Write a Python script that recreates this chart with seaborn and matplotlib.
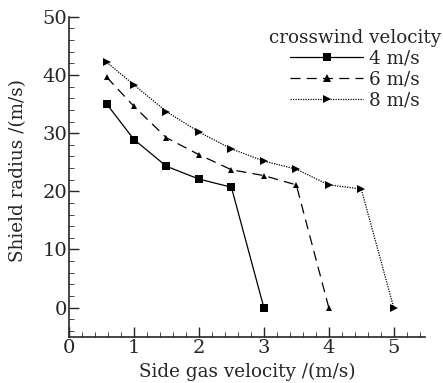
import pandas as pd
import seaborn as sns
import matplotlib.pyplot as plt
from matplotlib.ticker import MultipleLocator

# Data
x_4 = [0.58, 1.0, 1.5, 2.0, 2.5, 3.0]
y_4 = [35.0, 28.9, 24.3, 22.1, 20.7, 0.0]

x_6 = [0.58, 1.0, 1.5, 2.0, 2.5, 3.0, 3.5, 4.0]
y_6 = [39.6, 34.6, 29.2, 26.3, 23.7, 22.7, 21.1, 0.0]

x_8 = [0.58, 1.0, 1.5, 2.0, 2.5, 3.0, 3.5, 4.0, 4.5, 5.0]
y_8 = [42.2, 38.3, 33.7, 30.2, 27.3, 25.2, 23.8, 21.1, 20.4, 0.0]

labels = ['4 m/s', '6 m/s', '8 m/s']

df = pd.concat([
    pd.DataFrame({'x': x_4, 'y': y_4, 'wind': labels[0]}),
    pd.DataFrame({'x': x_6, 'y': y_6, 'wind': labels[1]}),
    pd.DataFrame({'x': x_8, 'y': y_8, 'wind': labels[2]}),
], ignore_index=True)

sns.set_style('ticks')
plt.rcParams['font.family'] = ['DejaVu Serif']
plt.rcParams['mathtext.fontset'] = 'dejavuserif'

fig = plt.figure(figsize=(4.43, 3.83), dpi=100)
ax = fig.add_axes([0.156, 0.121, 0.803, 0.835])

sns.lineplot(data=df, x='x', y='y', hue='wind', style='wind',
             palette=['black'] * 3,
             dashes={'4 m/s': '', '6 m/s': (8, 5), '8 m/s': (1, 1)},
             markers={'4 m/s': 's', '6 m/s': '^', '8 m/s': '>'},
             markersize=6, linewidth=0.9, markeredgewidth=0,
             sort=False, ax=ax)

# smaller triangles than the squares
for line, ms in zip(ax.get_lines(), [6, 5, 6]):
    line.set_markersize(ms)

ax.set_xlim(0, 5.48)
ax.set_ylim(-5, 50)
ax.xaxis.set_major_locator(MultipleLocator(1))
ax.xaxis.set_minor_locator(MultipleLocator(0.2))
ax.yaxis.set_major_locator(MultipleLocator(10))
ax.yaxis.set_minor_locator(MultipleLocator(2))
ax.tick_params(which='both', direction='in', labelsize=14, width=1)
ax.tick_params(which='major', length=7, pad=1.5)
ax.tick_params(which='minor', length=3.5, width=0.6)
sns.despine(ax=ax)
for s in ['left', 'bottom']:
    ax.spines[s].set_linewidth(1.2)

ax.set_xlabel('Side gas velocity /(m/s)', fontsize=13.2)
ax.set_ylabel('Shield radius /(m/s)', fontsize=13.2)
ax.xaxis.set_label_coords(0.5, -0.082)
ax.yaxis.set_label_coords(-0.118, 0.52)

leg = ax.legend(title='crosswind velocity', frameon=False, fontsize=13.2,
                title_fontsize=13.2, handlelength=4, handletextpad=0.3,
                labelspacing=0.15, borderaxespad=0,
                loc='upper right', bbox_to_anchor=(1.066, 0.985))

fig.savefig('out.png', dpi=100)
